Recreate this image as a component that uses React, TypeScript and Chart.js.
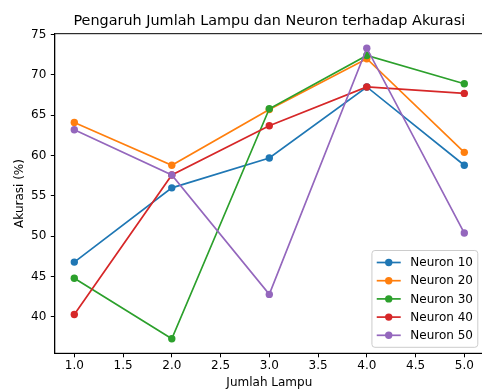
import React, { useEffect, useRef } from "react";
import { Chart, registerables } from "chart.js";

Chart.register(...registerables);

// ---- data ----
const lampCounts = [1, 2, 3, 4, 5];
const neuron10 = [46.8, 56.0, 59.7, 68.5, 58.8];
const neuron20 = [64.1, 58.8, 65.7, 72.0, 60.4];
const neuron30 = [44.8, 37.3, 65.8, 72.4, 68.9];
const neuron40 = [40.3, 57.6, 63.7, 68.5, 67.7];
const neuron50 = [63.2, 57.6, 42.8, 73.3, 50.4];
const seriesLabels = ["Neuron 10", "Neuron 20", "Neuron 30", "Neuron 40", "Neuron 50"];
const seriesValues = [neuron10, neuron20, neuron30, neuron40, neuron50];
const seriesColors = ["#1f77b4", "#ff7f0e", "#2ca02c", "#d62728", "#9467bd"];
const chartTitle = "Pengaruh Jumlah Lampu dan Neuron terhadap Akurasi";
const xTitle = "Jumlah Lampu";
const yTitle = "Akurasi (%)";

const FONT = '"DejaVu Sans", sans-serif';
const CANVAS_W = 490;
const CANVAS_H = 400;

const frameAndLegend = {
  id: "frameAndLegend",
  afterDraw(chart: any) {
    const { ctx, chartArea } = chart;
    ctx.save();
    // axes frame (top/right spines)
    ctx.strokeStyle = "#000";
    ctx.lineWidth = 1;
    ctx.strokeRect(chartArea.left, chartArea.top, chartArea.right - chartArea.left, chartArea.bottom - chartArea.top);

    // legend inside lower right
    const fs = 12;
    ctx.font = `${fs}px ${FONT}`;
    const ds = chart.data.datasets;
    const pad = 0.4 * fs;
    const handleLen = 2 * fs;
    const textPad = 0.8 * fs;
    const rowH = 1.5 * fs + 0.2;
    const textW = Math.max(...ds.map((d: any) => ctx.measureText(d.label).width));
    const boxW = pad + handleLen + textPad + textW + pad;
    const boxH = pad * 2 + rowH * (ds.length - 1) + fs * 1.2;
    const bx = chartArea.right - 0.5 * fs - boxW;
    const by = chartArea.bottom - 0.5 * fs - boxH;
    const r = 3;
    ctx.beginPath();
    ctx.moveTo(bx + r, by);
    ctx.lineTo(bx + boxW - r, by);
    ctx.arcTo(bx + boxW, by, bx + boxW, by + r, r);
    ctx.lineTo(bx + boxW, by + boxH - r);
    ctx.arcTo(bx + boxW, by + boxH, bx + boxW - r, by + boxH, r);
    ctx.lineTo(bx + r, by + boxH);
    ctx.arcTo(bx, by + boxH, bx, by + boxH - r, r);
    ctx.lineTo(bx, by + r);
    ctx.arcTo(bx, by, bx + r, by, r);
    ctx.closePath();
    ctx.fillStyle = "rgba(255,255,255,0.8)";
    ctx.fill();
    ctx.strokeStyle = "#cccccc";
    ctx.lineWidth = 1;
    ctx.stroke();

    ds.forEach((d: any, i: number) => {
      const cy = by + pad + fs * 0.6 + i * rowH;
      const x0 = bx + pad;
      ctx.strokeStyle = d.borderColor;
      ctx.lineWidth = d.borderWidth;
      ctx.beginPath();
      ctx.moveTo(x0, cy);
      ctx.lineTo(x0 + handleLen, cy);
      ctx.stroke();
      ctx.fillStyle = d.borderColor;
      ctx.beginPath();
      ctx.arc(x0 + handleLen / 2, cy, d.pointRadius, 0, Math.PI * 2);
      ctx.fill();
      ctx.fillStyle = "#000";
      ctx.textAlign = "left";
      ctx.textBaseline = "middle";
      ctx.fillText(d.label, x0 + handleLen + textPad, cy + 0.5);
    });
    ctx.restore();
  },
};

export default function App() {
  const canvasRef = useRef<HTMLCanvasElement | null>(null);

  useEffect(() => {
    const canvas = canvasRef.current;
    if (!canvas) return;
    const allVals = seriesValues.flat();
    const yMinData = Math.min(...allVals);
    const yMaxData = Math.max(...allVals);
    const yMargin = (yMaxData - yMinData) * 0.05;
    const xMargin = (lampCounts[lampCounts.length - 1] - lampCounts[0]) * 0.05;

    const chart = new Chart(canvas, {
      type: "line",
      data: {
        datasets: seriesLabels.map((label, i) => ({
          label,
          data: lampCounts.map((x, j) => ({ x, y: seriesValues[i][j] })),
          borderColor: seriesColors[i],
          backgroundColor: seriesColors[i],
          pointBackgroundColor: seriesColors[i],
          pointBorderWidth: 0,
          pointRadius: 3.7,
          borderWidth: 1.7,
          fill: false,
          tension: 0,
          order: seriesLabels.length - 1 - i,
        })),
      },
      options: {
        animation: false,
        responsive: false,
        devicePixelRatio: 1,
        layout: { padding: { left: 0, right: CANVAS_W - 483.8, top: 0, bottom: 0 } },
        plugins: {
          legend: { display: false },
          tooltip: { enabled: false },
          title: {
            display: true,
            fullSize: false,
            text: chartTitle,
            color: "#000",
            font: { family: FONT, size: 14.4, weight: "normal" },
            padding: { top: 12.4, bottom: 4.0 },
          },
        },
        scales: {
          x: {
            type: "linear",
            min: lampCounts[0] - xMargin,
            max: lampCounts[lampCounts.length - 1] + xMargin,
            afterFit: (s: any) => {
              s.height = CANVAS_H - 353.3;
            },
            ticks: {
              stepSize: 0.5,
              includeBounds: false,
              color: "#000",
              font: { family: FONT, size: 12 },
              padding: 1,
              maxRotation: 0,
              autoSkip: false,
              callback: (v: any) => Number(v).toFixed(1),
            },
            grid: { display: true, drawOnChartArea: false, drawTicks: true, tickLength: 4, color: "#000", tickWidth: 1 },
            border: { display: true, color: "#000", width: 1 },
            title: {
              display: true,
              text: xTitle,
              color: "#000",
              font: { family: FONT, size: 12 },
              padding: { top: 0, bottom: 10.2 },
            },
          },
          y: {
            type: "linear",
            min: yMinData - yMargin,
            max: yMaxData + yMargin,
            afterFit: (s: any) => {
              s.width = 54.8;
            },
            ticks: {
              stepSize: 5,
              includeBounds: false,
              color: "#000",
              font: { family: FONT, size: 12 },
              padding: 4.5,
              autoSkip: false,
            },
            grid: { display: true, drawOnChartArea: false, drawTicks: true, tickLength: 4, color: "#000", tickWidth: 1 },
            border: { display: true, color: "#000", width: 1 },
            title: {
              display: true,
              text: yTitle,
              color: "#000",
              font: { family: FONT, size: 12 },
              padding: { top: 13, bottom: 0 },
            },
          },
        },
      },
      plugins: [frameAndLegend],
    });
    return () => chart.destroy();
  }, []);

  return (
    <div
      style={{
        position: "fixed",
        left: 0,
        top: 0,
        width: 482,
        height: 389,
        overflow: "hidden",
        background: "#fff",
      }}
    >
      <canvas
        ref={canvasRef}
        width={CANVAS_W}
        height={CANVAS_H}
        style={{ display: "block", width: CANVAS_W, height: CANVAS_H }}
      />
    </div>
  );
}
